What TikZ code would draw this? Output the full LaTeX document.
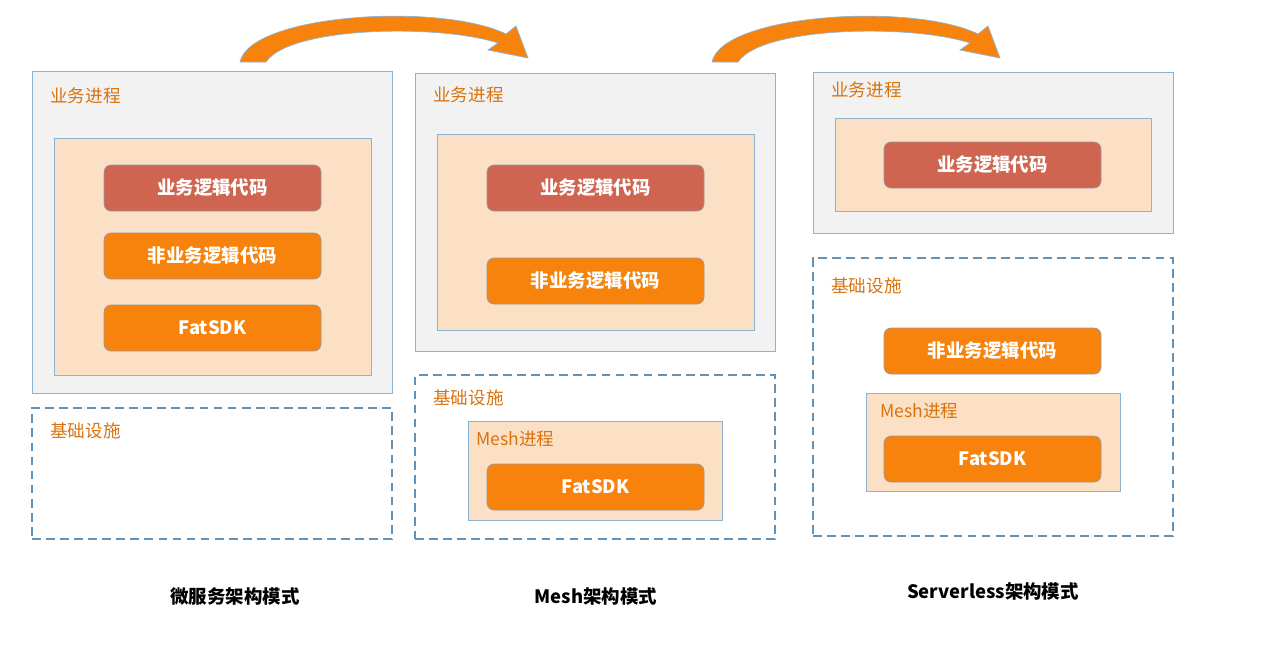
\documentclass[tikz,border=0pt]{standalone}
\usepackage{fontspec}
\setmainfont{Noto Sans CJK SC}
\usetikzlibrary{fit}
\definecolor{procgray}{HTML}{F2F2F2}
\definecolor{edgeblue}{HTML}{8DB3D3}
\definecolor{dashblue}{HTML}{5F93BC}
\definecolor{peach}{HTML}{FCE0C6}
\definecolor{logicred}{HTML}{CF6450}
\definecolor{btnorange}{HTML}{F7820C}
\definecolor{labelorange}{HTML}{D9730D}
\tikzset{
  proc/.style={draw=edgeblue, fill=procgray, inner sep=0pt},
  infra/.style={draw=dashblue, dash pattern=on 5pt off 3pt, line width=0.6pt, inner sep=0pt},
  inner/.style={draw=edgeblue, fill=peach, inner sep=0pt},
  btn/.style={draw=gray!80, rounded corners=4pt, inner sep=0pt},
  redbtn/.style={btn, fill=logicred},
  orbtn/.style={btn, fill=btnorange},
  btntext/.style={text=white, inner sep=0pt, font=\bfseries\fontsize{10.5}{12}\selectfont},
  tag/.style={anchor=west, text=labelorange, inner sep=0pt, font=\fontsize{10}{12}\selectfont},
  caption/.style={font=\bfseries\fontsize{10.5}{12}\selectfont},
  hop/.style={fill=btnorange, draw=edgeblue, line width=0.4pt}
}
\begin{document}
\begin{tikzpicture}[x=0.02cm, y=-0.02cm]
  \useasboundingbox (0,0) rectangle (1280,647);

  % micro service
  \node[proc, fit={(32,71)(392,393)}] (p1) {};
  \node[tag] (p1t) at (50,96) {业务进程};
  \node[inner, fit={(54,138)(371,375)}] (p1i) {};
  \node[redbtn, fit={(104,165)(321,211)}] (p1a) {};
  \node[btntext] at (p1a) {业务逻辑代码};
  \node[orbtn, fit={(104,233)(321,279)}] (p1b) {};
  \node[btntext] at (p1b) {非业务逻辑代码};
  \node[orbtn, fit={(104,305)(321,351)}] (p1c) {};
  \node[btntext] at (p1c) {FatSDK};
  \node[infra, fit={(32,408)(392,539)}] (i1) {};
  \node[tag] (i1t) at (50,431) {基础设施};

  % mesh
  \node[proc, fit={(415,73)(775,351)}] (p2) {};
  \node[tag] (p2t) at (433,95) {业务进程};
  \node[inner, fit={(437,134)(754,330)}] (p2i) {};
  \node[redbtn, fit={(487,165)(704,211)}] (p2a) {};
  \node[btntext] at (p2a) {业务逻辑代码};
  \node[orbtn, fit={(487,258)(704,304)}] (p2b) {};
  \node[btntext] at (p2b) {非业务逻辑代码};
  \node[infra, fit={(415,375)(775,539)}] (i2) {};
  \node[tag] (i2t) at (433,398) {基础设施};
  \node[inner, fit={(468,421)(722,520)}] (m2) {};
  \node[tag] (m2t) at (476,439) {Mesh进程};
  \node[orbtn, fit={(487,464)(704,510)}] (m2a) {};
  \node[btntext] at (m2a) {FatSDK};

  % serverless
  \node[proc, fit={(813,72)(1173,233)}] (p3) {};
  \node[tag] (p3t) at (831,90) {业务进程};
  \node[inner, fit={(835,118)(1151,211)}] (p3i) {};
  \node[redbtn, fit={(884,142)(1101,188)}] (p3a) {};
  \node[btntext] at (p3a) {业务逻辑代码};
  \node[infra, fit={(813,258)(1173,536)}] (i3) {};
  \node[tag] (i3t) at (831,286) {基础设施};
  \node[orbtn, fit={(884,328)(1101,374)}] (i3a) {};
  \node[btntext] at (i3a) {非业务逻辑代码};
  \node[inner, fit={(866,393)(1120,491)}] (m3) {};
  \node[tag] (m3t) at (880,411) {Mesh进程};
  \node[orbtn, fit={(884,436)(1101,482)}] (m3a) {};
  \node[btntext] at (m3a) {FatSDK};

  % captions
  \node[caption] (c1) at (235,596) {微服务架构模式};
  \node[caption] (c2) at (596,596) {Mesh架构模式};
  \node[caption] (c3) at (993,591) {Serverless架构模式};

  % arrows
  \foreach \dx in {0,472} {
    \begin{scope}[xshift=\dx*0.02cm]
      \path[hop] (240,62) .. controls (250,14) and (440,2) .. (506,34)
        -- (516,26) -- (528,58) -- (488,50) -- (498,43)
        .. controls (440,24) and (290,26) .. (266,62) -- cycle;
    \end{scope}
  }
\end{tikzpicture}
\end{document}
